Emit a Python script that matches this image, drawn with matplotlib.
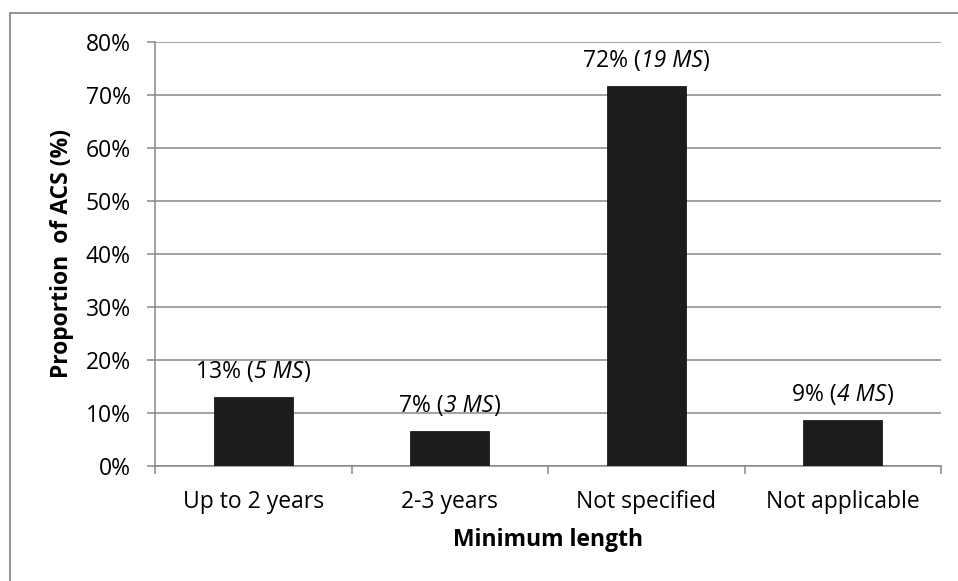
import matplotlib
matplotlib.use("Agg")
import matplotlib.pyplot as plt
from matplotlib.patches import Rectangle
from matplotlib.offsetbox import TextArea, HPacker, AnnotationBbox

# Share of ACS by minimum length requirement (46 ACS in total)
categories = ["Up to 2 years", "2-3 years", "Not specified", "Not applicable"]
acs_counts = [6, 3, 33, 4]
acs_total = 46
ms_counts = [5, 3, 19, 4]
shares = [100 * c / acs_total for c in acs_counts]
y_ticks = [0, 10, 20, 30, 40, 50, 60, 70, 80]

FONT = "Open Sans"
FS = 16.5
plt.rcParams["font.family"] = FONT

W, H, DPI = 958, 581, 100
fig = plt.figure(figsize=(W / DPI, H / DPI), dpi=DPI)
fig.patch.set_facecolor("white")

# Outer chart frame
fig.add_artist(Rectangle((10 / W, -0.05), 1.1, 1 - 13 / H + 0.05,
                         transform=fig.transFigure, fill=False,
                         edgecolor="#8a8a8a", linewidth=1.3, clip_on=False))

ax = fig.add_axes([155 / W, 1 - 465.7 / H, (941 - 155) / W, (465.7 - 42.3) / H])

grid_c = "#888888"
x = list(range(len(categories)))
ax.bar(x, shares, width=0.4, color="#1c1c1c", edgecolor="#1c1c1c",
       linewidth=0.6, zorder=3)

ax.set_xlim(-0.5, len(categories) - 0.5)
ax.set_ylim(0, 80)
ax.set_yticks(y_ticks)
ax.set_yticklabels([f"{t}%" for t in y_ticks])
ax.yaxis.grid(True, color=grid_c, linewidth=1.1)
ax.set_axisbelow(True)

# Category boundaries as ticks, names centred under each bar
ax.set_xticks([i - 0.5 for i in range(len(categories) + 1)])
ax.set_xticklabels([])
ax.set_xticks(x, minor=True)
ax.set_xticklabels(categories, minor=True)
ax.tick_params(axis="x", which="major", length=6, width=1.1, color=grid_c)
ax.tick_params(axis="x", which="minor", length=0, pad=17.5, labelsize=FS, labelcolor="black")
ax.tick_params(axis="y", length=6, width=1.1, color=grid_c, pad=11.5, labelsize=FS)

for side in ("top", "right"):
    ax.spines[side].set_visible(False)
for side in ("left", "bottom"):
    ax.spines[side].set_color(grid_c)
    ax.spines[side].set_linewidth(1.1)

# Value labels: percentage upright, member-state count in italics
for xi, v, ms in zip(x, shares, ms_counts):
    parts = [
        TextArea(f"{round(v)}% (", textprops=dict(fontsize=FS, family=FONT)),
        TextArea(f"{ms} MS", textprops=dict(fontsize=FS, family=FONT, style="italic")),
        TextArea(")", textprops=dict(fontsize=FS, family=FONT)),
    ]
    box = HPacker(children=parts, pad=0, sep=0, align="baseline")
    ab = AnnotationBbox(box, (xi, v), xybox=(0, 18), boxcoords="offset points",
                        frameon=False, box_alignment=(0.5, 0.5))
    ax.add_artist(ab)

fig.text(62 / W, 1 - 254 / H, "Proportion  of ACS (%)", rotation=90,
         ha="center", va="center", fontsize=FS, fontweight="bold")
fig.text(548 / W, 1 - 540 / H, "Minimum length",
         ha="center", va="center", fontsize=FS, fontweight="bold")

fig.savefig("out.png", dpi=DPI)
